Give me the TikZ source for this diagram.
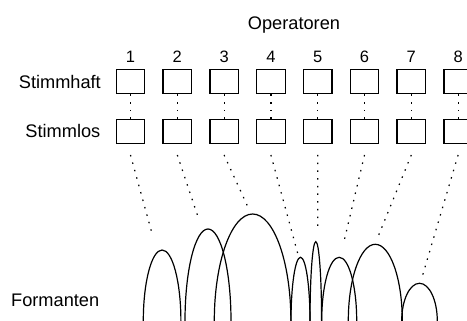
\documentclass[tikz,border=0pt]{standalone}
\usepackage{fontspec}
\setmainfont{Liberation Sans}
\begin{document}
\begin{tikzpicture}[x=1pt,y=1pt,
  opbox/.style={draw,line width=1.3pt,minimum width=28.5pt,minimum height=24.5pt,inner sep=0pt},
  lab/.style={font=\fontsize{18.2}{22}\selectfont,inner sep=0pt},
  num/.style={font=\fontsize{16.5}{19}\selectfont,inner sep=0pt,anchor=base},
  dotline/.style={line width=1.2pt,dash pattern=on 1.5pt off 6.2pt},
  arch/.style={line width=1.2pt}]
\useasboundingbox (0,0) rectangle (467,321);
\clip (0,0) rectangle (467,321);
\node[lab,anchor=base] (op) at (294,291) {Operatoren};
\node[lab,anchor=base east] (sh) at (101,232) {Stimmhaft};
\node[lab,anchor=base east] (sl) at (100.5,183) {Stimmlos};
\node[lab,anchor=base west] (fo) at (11,14) {Formanten};
\foreach \i in {1,...,8}{
  \pgfmathsetmacro{\cx}{130.5+46.8*(\i-1)}
  \node[num] (n\i) at (\cx,258.7) {\i};
  \node[opbox] (h\i) at (\cx,239.5) {};
  \node[opbox] (s\i) at (\cx,189.5) {};
  \draw[dotline] (h\i.south) -- (s\i.north);
  \coordinate (t\i) at (\cx,166);
}
% arch tops (ends of dotted lines)
\coordinate (e1) at (152.7,85);
\coordinate (e2) at (199.3,100.3);
\coordinate (e3) at (249.3,111);
\coordinate (e4) at (297.7,67.7);
\coordinate (e5) at (317.7,89.3);
\coordinate (e6) at (343.3,76.7);
\coordinate (e7) at (376.7,81);
\coordinate (e8) at (422.7,46);
\foreach \i in {1,...,8}{
  \draw[dotline] (t\i) -- (e\i);
}
% formant arches
\draw[arch] (143.3,0) arc[start angle=180,end angle=0,x radius=18.8,y radius=71];
\draw[arch] (185,0) arc[start angle=180,end angle=0,x radius=23,y radius=92];
\draw[arch] (214.3,0) arc[start angle=180,end angle=0,x radius=38.3,y radius=107];
\draw[arch] (291,0) arc[start angle=180,end angle=0,x radius=9.5,y radius=63.7];
\draw[arch] (310,0) arc[start angle=180,end angle=0,x radius=5.8,y radius=79.3];
\draw[arch] (321.7,0) arc[start angle=180,end angle=0,x radius=17.5,y radius=63.7];
\draw[arch] (348.3,0) arc[start angle=180,end angle=0,x radius=27,y radius=76.7];
\draw[arch] (401.7,0) arc[start angle=180,end angle=0,x radius=17.8,y radius=37.7];
\end{tikzpicture}
\end{document}
